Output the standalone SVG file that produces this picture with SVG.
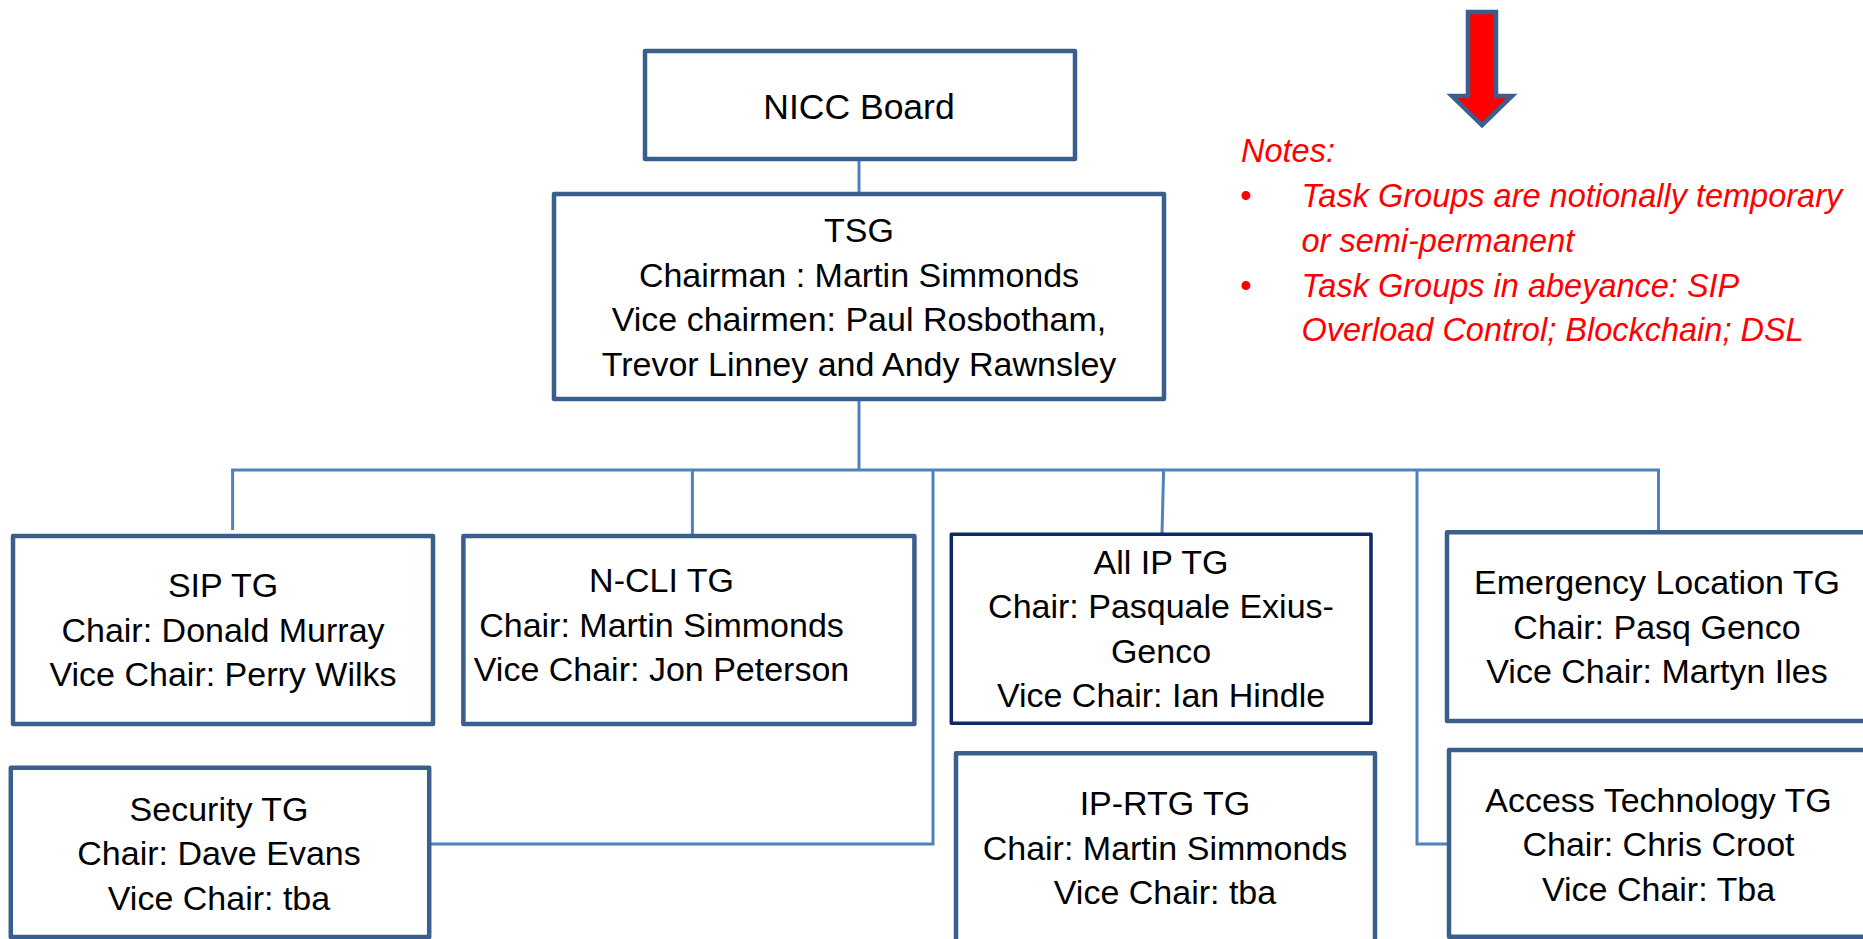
<svg xmlns="http://www.w3.org/2000/svg" width="1863" height="939" viewBox="0 0 1863 939">
<style>
.box{fill:#FFFFFF;stroke:#3A5F8C;stroke-width:4.5;stroke-linejoin:round}
.box2{fill:#FFFFFF;stroke:#0E2A66;stroke-width:3.5;stroke-linejoin:round}
.t{font-family:"Liberation Sans",Arial,sans-serif;font-size:34px;fill:#000000;text-anchor:middle}
.n{font-family:"Liberation Sans",Arial,sans-serif;font-size:32.5px;font-style:italic;fill:#FF0000}
.c{fill:none;stroke:#4F81BD;stroke-width:3}
</style>
<rect width="1863" height="939" fill="#FFFFFF"/>
<g id="connectors">
<line class="c" x1="859" y1="159" x2="859" y2="194"/>
<line class="c" x1="859" y1="399" x2="859" y2="470"/>
<line class="c" x1="231.1" y1="470" x2="1660" y2="470"/>
<line class="c" x1="232.6" y1="470" x2="232.6" y2="530"/>
<line class="c" x1="692.4" y1="470" x2="692.4" y2="534"/>
<line class="c" x1="1163.6" y1="470" x2="1162" y2="534"/>
<line class="c" x1="1658.5" y1="470" x2="1658.5" y2="530"/>
<polyline class="c" points="933,471 933,844 429,844"/>
<polyline class="c" points="1417,471 1417,844 1449,844"/>
</g>
<g id="nicc-board">
<rect class="box" x="645" y="51" width="430" height="108"/>
<text class="t" x="859" y="119" style="font-size:35.5px">NICC Board</text>
</g>
<g id="tsg">
<rect class="box" x="554" y="194" width="610" height="205"/>
<text class="t" x="859" y="242">TSG</text>
<text class="t" x="859" y="286.5">Chairman : Martin Simmonds</text>
<text class="t" x="859" y="331">Vice chairmen: Paul Rosbotham,</text>
<text class="t" x="859" y="375.5">Trevor Linney and Andy Rawnsley</text>
</g>
<g id="sip-tg">
<rect class="box" x="13" y="536" width="420" height="188"/>
<text class="t" x="223" y="597">SIP TG</text>
<text class="t" x="223" y="641.5">Chair: Donald Murray</text>
<text class="t" x="223" y="686">Vice Chair: Perry Wilks</text>
</g>
<g id="n-cli-tg">
<rect class="box" x="463.4" y="536" width="451" height="188"/>
<text class="t" x="661.5" y="592">N-CLI TG</text>
<text class="t" x="661.5" y="636.5">Chair: Martin Simmonds</text>
<text class="t" x="661.5" y="681">Vice Chair: Jon Peterson</text>
</g>
<g id="all-ip-tg">
<rect class="box2" x="951.3" y="534.3" width="419.7" height="189"/>
<text class="t" x="1161" y="573.5">All IP TG</text>
<text class="t" x="1161" y="618">Chair: Pasquale Exius-</text>
<text class="t" x="1161" y="662.5">Genco</text>
<text class="t" x="1161" y="707">Vice Chair: Ian Hindle</text>
</g>
<g id="emergency-location-tg">
<rect class="box" x="1447" y="532.3" width="460" height="188.7"/>
<text class="t" x="1657" y="594">Emergency Location TG</text>
<text class="t" x="1657" y="638.5">Chair: Pasq Genco</text>
<text class="t" x="1657" y="683">Vice Chair: Martyn Iles</text>
</g>
<g id="security-tg">
<rect class="box" x="10.8" y="767.7" width="418.4" height="169.3"/>
<text class="t" x="219" y="820.5">Security TG</text>
<text class="t" x="219" y="865">Chair: Dave Evans</text>
<text class="t" x="219" y="909.5">Vice Chair: tba</text>
</g>
<g id="ip-rtg-tg">
<rect class="box" x="956" y="753.3" width="419" height="210"/>
<text class="t" x="1165" y="815">IP-RTG TG</text>
<text class="t" x="1165" y="859.5">Chair: Martin Simmonds</text>
<text class="t" x="1165" y="904">Vice Chair: tba</text>
</g>
<g id="access-technology-tg">
<rect class="box" x="1449" y="750" width="460" height="186.7"/>
<text class="t" x="1658.5" y="811.5">Access Technology TG</text>
<text class="t" x="1658.5" y="856">Chair: Chris Croot</text>
<text class="t" x="1658.5" y="900.5">Vice Chair: Tba</text>
</g>
<g id="arrow">
<polygon points="1468,12 1496,12 1496,96 1512,96 1482,125 1452,96 1468,96" fill="#FF0000" stroke="#3A5F8C" stroke-width="4.5" stroke-linejoin="miter"/>
</g>
<g id="notes">
<text class="n" x="1241" y="162">Notes:</text>
<text class="n" x="1246" y="207" style="font-style:normal;text-anchor:middle">•</text>
<text class="n" x="1301.5" y="207">Task Groups are notionally temporary</text>
<text class="n" x="1301.5" y="252">or semi-permanent</text>
<text class="n" x="1246" y="297" style="font-style:normal;text-anchor:middle">•</text>
<text class="n" x="1301.5" y="297">Task Groups in abeyance: SIP</text>
<text class="n" x="1301.5" y="340.5">Overload Control; Blockchain; DSL</text>
</g>
</svg>
